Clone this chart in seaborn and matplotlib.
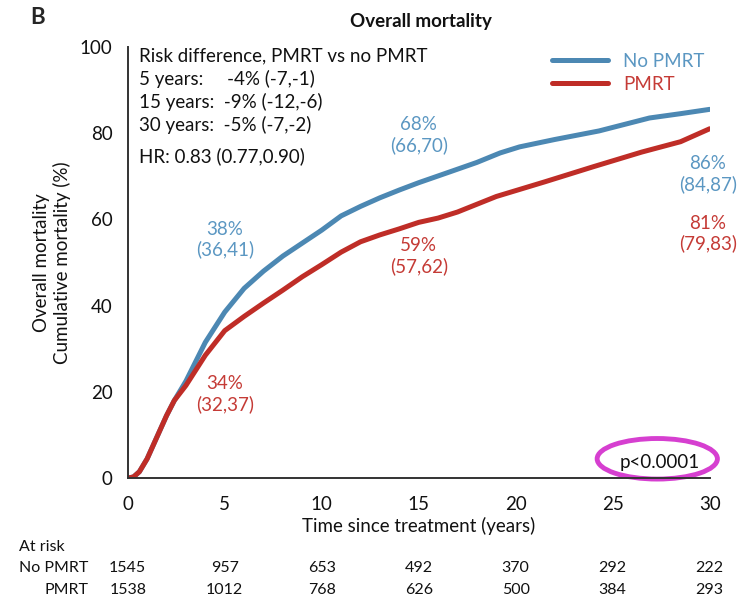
import matplotlib
matplotlib.use("Agg")
import matplotlib.pyplot as plt
from matplotlib.patches import Ellipse
from matplotlib.lines import Line2D
import seaborn as sns
import pandas as pd

# Cumulative overall mortality (%) by years since treatment
years_no_pmrt = [0, 0.3, 0.6, 1, 1.5, 2, 2.4, 3, 3.5, 4, 5, 6, 7, 8, 9, 10, 11, 12, 13, 14,
                 15, 16.6, 18, 19.2, 20.2, 22, 24.3, 26.9, 28.5, 30]
mort_no_pmrt = [0, 0.3, 1.5, 4.5, 9.5, 14.5, 18, 22.5, 27, 31.5, 38.5, 44, 48, 51.5, 54.5,
                57.5, 60.8, 63, 65, 66.8, 68.5, 71, 73.2, 75.4, 76.8, 78.5, 80.5, 83.5,
                84.5, 85.5]

years_pmrt = [0, 0.3, 0.6, 1, 1.5, 2, 2.4, 3, 3.5, 4, 5, 6, 7, 8, 9, 10, 11, 12, 13, 14, 15,
              16, 17, 19, 21.5, 24, 26.5, 28.5, 30]
mort_pmrt = [0, 0.3, 1.5, 4.5, 9.5, 14.5, 18, 21.5, 25, 28.5, 34.2, 37.5, 40.6, 43.6, 46.7,
             49.5, 52.4, 54.8, 56.4, 57.8, 59.3, 60.3, 61.7, 65.3, 68.7, 72.2, 75.6, 78, 81]

groups = ["No PMRT", "PMRT"]
tick_years = [0, 5, 10, 15, 20, 25, 30]
at_risk_no_pmrt = [1545, 957, 653, 492, 370, 292, 222]
at_risk_pmrt = [1538, 1012, 768, 626, 500, 384, 293]

risk_lines = ["Risk difference, PMRT vs no PMRT",
              "5 years:     -4% (-7,-1)",
              "15 years:  -9% (-12,-6)",
              "30 years:  -5% (-7,-2)"]
hr_text = "HR: 0.83 (0.77,0.90)"

# Point estimates with 95% CI at 5, 15 and 30 years
est_no_pmrt = [(5, 38, 36, 41), (15, 68, 66, 70), (30, 86, 84, 87)]
est_pmrt = [(5, 34, 32, 37), (15, 59, 57, 62), (30, 81, 79, 83)]

line_colors = {"No PMRT": "#4c88b3", "PMRT": "#bf2d27"}
text_colors = {"No PMRT": "#5b97c2", "PMRT": "#c53b36"}

sns.set_theme(style="white")
plt.rcParams["font.family"] = ["Lato", "DejaVu Sans"]

df = pd.concat([
    pd.DataFrame({"years": years_no_pmrt, "mortality": mort_no_pmrt, "group": "No PMRT"}),
    pd.DataFrame({"years": years_pmrt, "mortality": mort_pmrt, "group": "PMRT"}),
], ignore_index=True)

fig = plt.figure(figsize=(7.47, 6.0), dpi=100)
ax = fig.add_axes([0.171, 0.203, 0.779, 0.719])

sns.lineplot(data=df, x="years", y="mortality", hue="group", hue_order=groups,
             palette=line_colors, linewidth=3.6, legend=False, ax=ax, estimator=None)

ax.set_xlim(0, 30)
ax.set_ylim(0, 100)
ax.set_xticks(tick_years)
ax.set_yticks([0, 20, 40, 60, 80, 100])
for s in ["top", "right"]:
    ax.spines[s].set_visible(False)
for s in ["left", "bottom"]:
    ax.spines[s].set_color("#333333")
    ax.spines[s].set_linewidth(1.4)
ax.tick_params(axis="both", direction="out", length=7, width=1.4, color="#333333",
               labelsize=13.5, labelcolor="#111111", pad=4)
ax.tick_params(axis="x", pad=6)
ax.set_xlabel("Time since treatment (years)", fontsize=13.5, color="#111111", labelpad=3)
ax.set_ylabel("Overall mortality\nCumulative mortality (%)", fontsize=13.5,
              color="#111111", labelpad=6, linespacing=1.2)

fig.text(0.04, 0.97, "B", fontsize=16, fontweight="bold", ha="left", va="center")
fig.text(0.563, 0.965, "Overall mortality", fontsize=13.5, fontweight="bold",
         ha="center", va="center", color="#111111")

# Risk difference block
for i, line in enumerate(risk_lines):
    ax.text(0.6, 98.0 - i * 5.35, line, fontsize=13.5, ha="left", va="center", color="#111111")
ax.text(0.6, 74.6, hr_text, fontsize=13.5, ha="left", va="center", color="#111111")

# Estimate labels
offsets = {
    "No PMRT": {5: 55.3, 15: 79.5, 30: 70.5},
    "PMRT": {5: 19.5, 15: 51.5, 30: 56.7},
}
for grp, ests in (("No PMRT", est_no_pmrt), ("PMRT", est_pmrt)):
    for yr, est, lo, hi in ests:
        xpos = 29.9 if yr == 30 else yr
        ax.text(xpos, offsets[grp][yr], f"{est}%\n({lo},{hi})", fontsize=13.5,
                ha="center", va="center", color=text_colors[grp], linespacing=1.2)

# Legend
handles = [Line2D([0], [0], color=line_colors[g], lw=3.6) for g in groups]
leg = ax.legend(handles, groups, loc="upper right", bbox_to_anchor=(1.02, 1.025),
                frameon=False, fontsize=13.5, handlelength=3.0, handletextpad=0.8,
                labelspacing=0.3)
for t, g in zip(leg.get_texts(), groups):
    t.set_color(text_colors[g])

# Log-rank p-value
ax.text(27.45, 3.7, "p<0.0001", fontsize=13.5, ha="center", va="center", color="#111111")
ax.add_patch(Ellipse((27.3, 4.5), 6.2, 9.4, fill=False, edgecolor="#d63fd0",
                     linewidth=3.5, clip_on=False))

# Number at risk table
fig.text(0.026, 0.088, "At risk", fontsize=11.5, ha="left", va="center", color="#111111")
fig.text(0.118, 0.053, "No PMRT", fontsize=11.5, ha="right", va="center", color="#111111")
fig.text(0.118, 0.017, "PMRT", fontsize=11.5, ha="right", va="center", color="#111111")
for yr, n1, n2 in zip(tick_years, at_risk_no_pmrt, at_risk_pmrt):
    xf = fig.transFigure.inverted().transform(ax.transData.transform((yr, 0)))[0]
    fig.text(xf, 0.053, str(n1), fontsize=11.5, ha="center", va="center", color="#111111")
    fig.text(xf, 0.017, str(n2), fontsize=11.5, ha="center", va="center", color="#111111")

fig.savefig("out.png", dpi=100)
